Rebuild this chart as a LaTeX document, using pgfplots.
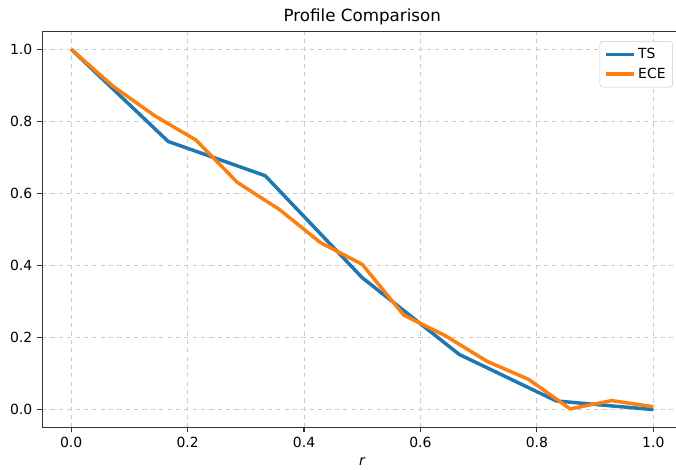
\documentclass[border=0pt]{standalone}
\usepackage{pgfplots}
\pgfplotsset{compat=1.18}
\usetikzlibrary{calc}
\usepackage{fontspec}
\setmainfont{DejaVu Sans}
\definecolor{tsblue}{HTML}{1F77B4}
\definecolor{eceorange}{HTML}{FF7F0E}
\begin{document}
\begin{tikzpicture}
\begin{axis}[
    name=ax,
    scale only axis,
    width=459.4pt, height=284.4pt,
    xmin=-0.05, xmax=1.05, ymin=-0.05, ymax=1.05,
    xtick={0,0.2,0.4,0.6,0.8,1.0},
    ytick={0,0.2,0.4,0.6,0.8,1.0},
    /pgf/number format/.cd, fixed, fixed zerofill, precision=1, assume math mode=true,
    /pgfplots/.cd,
    tick label style={font=\fontsize{10}{12}\selectfont},
    tick pos=left, tick align=outside,
    major tick length=3.5pt,
    every tick/.style={black!80, line width=0.8pt},
    axis line style={black!80, line width=0.8pt},
    grid=major,
    grid style={dashed, black!20, line width=0.6pt},
    title={Profile Comparison},
    title style={font=\fontsize{12}{14}\selectfont, yshift=-5pt},
    xlabel={\textit{r}},
    xlabel style={font=\fontsize{10}{12}\selectfont, yshift=0pt},
    legend style={at={(0.985,0.975)}, anchor=north east, draw=black!20,
        rounded corners=2pt, font=\fontsize{10}{12}\selectfont,
        inner sep=3pt, row sep=1pt},
    legend cell align=left,
    legend image code/.code={\draw[#1] (0pt,0pt) -- (20pt,0pt);},
]
\addplot[tsblue, line width=2.5pt, line join=round] coordinates {
(0.0000, 1.000) (0.1667, 0.744) (0.3333, 0.649) (0.5000, 0.366)
(0.6667, 0.153) (0.8333, 0.024) (1.0000, 0.000)
};
\addlegendentry{TS}
\addplot[eceorange, line width=2.5pt, line join=round] coordinates {
(0.0000, 1.000) (0.0714, 0.898) (0.1429, 0.816) (0.2143, 0.748)
(0.2857, 0.630) (0.3571, 0.556) (0.4286, 0.463) (0.5000, 0.403)
(0.5714, 0.262) (0.6429, 0.205) (0.7143, 0.134) (0.7857, 0.084)
(0.8571, 0.002) (0.9286, 0.025) (1.0000, 0.008)
};
\addlegendentry{ECE}
\end{axis}
\pgfresetboundingbox
\useasboundingbox ($(ax.south west)+(-30.2pt,-30.2pt)$) rectangle ++(485pt,337pt);
\end{tikzpicture}
\end{document}
